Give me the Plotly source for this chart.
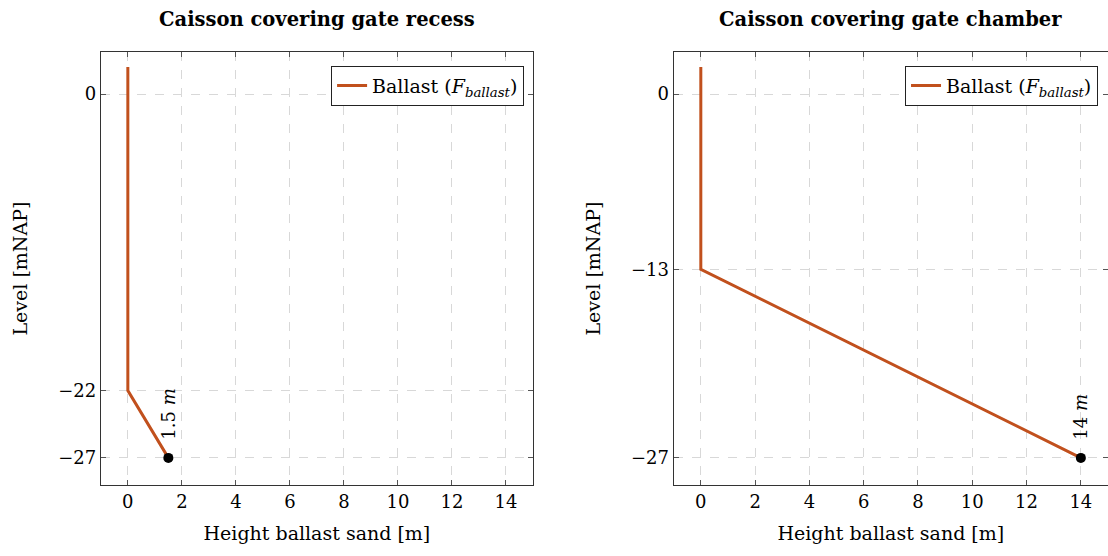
import plotly.graph_objects as go

# Ballast sand height profiles against level
recess_height = [0, 0, 1.5]
recess_level = [2, -22, -27]
chamber_height = [0, 0, 14]
chamber_level = [2, -13, -27]

recess_yticks = [0, -22, -27]
chamber_yticks = [0, -13, -27]
xticks = [0, 2, 4, 6, 8, 10, 12, 14]

titles = ["Caisson covering gate recess", "Caisson covering gate chamber"]
end_labels = ["1.5 <i>m</i>", "14 <i>m</i>"]
series_name = "Ballast (<i>F</i><sub><i>ballast</i></sub>)"

LINE = "#c1501d"
FONT = "DejaVu Serif"

fig = go.Figure()

panels = [
    (recess_height, recess_level, recess_yticks, "x", "y", [0.091, 0.481], "legend"),
    (chamber_height, chamber_level, chamber_yticks, "x2", "y2", [0.608, 1.0], "legend2"),
]

for i, (hx, lv, yt, xa, ya, dom, leg) in enumerate(panels):
    fig.add_trace(go.Scatter(
        x=hx, y=lv, mode="lines", xaxis=xa, yaxis=ya,
        line=dict(color=LINE, width=3),
        name=series_name, legend=leg, showlegend=True,
    ))
    fig.add_trace(go.Scatter(
        x=[hx[-1]], y=[lv[-1]], mode="markers", xaxis=xa, yaxis=ya,
        marker=dict(color="black", size=10), showlegend=False,
    ))
    fig.add_annotation(
        x=hx[-1], y=lv[-1], xref=xa, yref=ya, text=end_labels[i],
        textangle=-90, showarrow=False, yanchor="bottom", yshift=16,
        font=dict(family=FONT, size=18, color="black"),
    )
    fig.add_annotation(
        x=(dom[0] + dom[1]) / 2, y=1.0, xref="paper", yref="paper",
        xanchor="center", yanchor="top", yshift=-6,
        text="<b>" + titles[i] + "</b>", showarrow=False,
        font=dict(family=FONT, size=19.5, color="black"),
    )
    axis_common = dict(
        showline=True, linecolor="#333", linewidth=1.2, mirror="allticks",
        ticks="inside", ticklen=5, tickcolor="#555",
        showgrid=True, gridcolor="#d8d8d8", griddash="dash", gridwidth=1,
        zeroline=False, tickfont=dict(family=FONT, size=18, color="black"),
    )
    xkey = "xaxis" if xa == "x" else "xaxis2"
    ykey = "yaxis" if ya == "y" else "yaxis2"
    fig.update_layout(**{
        xkey: dict(axis_common, domain=dom, range=[-1, 15], tickvals=xticks,
                   anchor=ya,
                   title=dict(text="Height ballast sand [m]", standoff=16,
                              font=dict(family=FONT, size=19, color="black"))),
        ykey: dict(axis_common, domain=[0.128, 0.906], range=[-29, 3.1],
                   tickvals=yt, ticktext=[str(v).replace("-", "\u2212") for v in yt],
                   anchor=xa,
                   title=dict(text="Level [mNAP]", standoff=25,
                              font=dict(family=FONT, size=19, color="black"))),
    })

legend_style = dict(
    xanchor="right", yanchor="top",
    bgcolor="white", bordercolor="#222", borderwidth=1,
    font=dict(family=FONT, size=19, color="black"),
    itemwidth=30, tracegroupgap=0,
)

fig.update_layout(
    width=1108, height=556,
    margin=dict(l=0, r=0, t=0, b=0),
    paper_bgcolor="white", plot_bgcolor="white",
    legend=dict(legend_style, x=0.473, y=0.882),
    legend2=dict(legend_style, x=0.991, y=0.882),
)

fig.write_html("out.html")
